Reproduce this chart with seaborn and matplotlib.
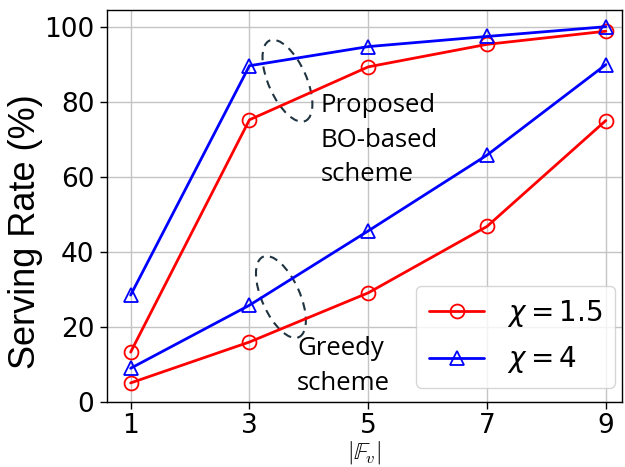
import pandas as pd
import seaborn as sns
import matplotlib.pyplot as plt
import matplotlib.transforms as mtransforms
from matplotlib.patches import Ellipse
import numpy as np


# values
num_fv = [1, 3, 5, 7, 9]
bo_chi15 = [13.3, 75.2, 89.3, 95.3, 98.8]
bo_chi4 = [28.5, 89.6, 94.7, 97.4, 100.0]
greedy_chi15 = [5.1, 16.0, 29.1, 46.8, 75.0]
greedy_chi4 = [9.0, 25.8, 45.6, 65.8, 89.9]

sns.set_style('ticks', {'axes.grid': True, 'grid.color': '#c8c8c8',
                        'text.color': 'black', 'axes.labelcolor': 'black',
                        'xtick.color': 'black', 'ytick.color': 'black',
                        'axes.edgecolor': 'black'})

fig = plt.figure(figsize=(6.25, 4.67), dpi=100)
ax = fig.add_axes([0.171, 0.139, 0.824, 0.840])

line_kw = dict(linewidth=2, markersize=10, markerfacecolor='none', markeredgewidth=1.3)

# proposed BO-based scheme
sns.lineplot(x=num_fv, y=bo_chi15, ax=ax, color='red', marker='o', markeredgecolor='red',
             label=r'$\chi = 1.5$', **line_kw)
sns.lineplot(x=num_fv, y=bo_chi4, ax=ax, color='blue', marker='^', markeredgecolor='blue',
             label=r'$\chi = 4$', **line_kw)
# greedy scheme
sns.lineplot(x=num_fv, y=greedy_chi15, ax=ax, color='red', marker='o', markeredgecolor='red',
             legend=False, **line_kw)
sns.lineplot(x=num_fv, y=greedy_chi4, ax=ax, color='blue', marker='^', markeredgecolor='blue',
             legend=False, **line_kw)

ax.set_xlim(0.6, 9.27)
ax.set_ylim(0, 104.5)
ax.set_xticks(num_fv)
ax.set_yticks([0, 20, 40, 60, 80, 100])
ax.tick_params(labelsize=19, length=5, width=1, pad=4)
ax.tick_params(axis='x', pad=3)
for s in ax.spines.values():
    s.set_linewidth(1)
ax.grid(True, color='#c4c4c4', linewidth=1)

ax.set_xlabel(r'$|\mathbb{F}_v|$', fontsize=17, labelpad=0, math_fontfamily='cm')
ax.set_ylabel('Serving Rate (%)', fontsize=26, family='Liberation Sans')
ax.yaxis.set_label_coords(-0.124, 0.434)

# dashed ellipses grouping the curves (sized in inches, placed in data coords)
for cx, cy in [(3.64, 85.6), (3.53, 28.0)]:
    tr = fig.dpi_scale_trans + mtransforms.ScaledTranslation(cx, cy, ax.transData)
    ax.add_patch(Ellipse((0, 0), 0.38, 0.88, angle=24, transform=tr, fill=False,
                         edgecolor='#1f3340', linestyle=(0, (4, 3)), linewidth=1.5))

ax.text(4.20, 82.3, 'Proposed\nBO-based\nscheme', fontsize=18.5, family='Open Sans',
        va='top', ha='left', linespacing=1.5)
ax.text(3.80, 17.6, 'Greedy\nscheme', fontsize=18.5, family='Open Sans',
        va='top', ha='left', linespacing=1.5)

ax.legend(loc='lower right', bbox_to_anchor=(0.986, 0.036), borderaxespad=0,
          fontsize=20, handlelength=2.0, framealpha=0.8, labelspacing=0.55,
          borderpad=0.45)

fig.savefig('out.png', dpi=100)
